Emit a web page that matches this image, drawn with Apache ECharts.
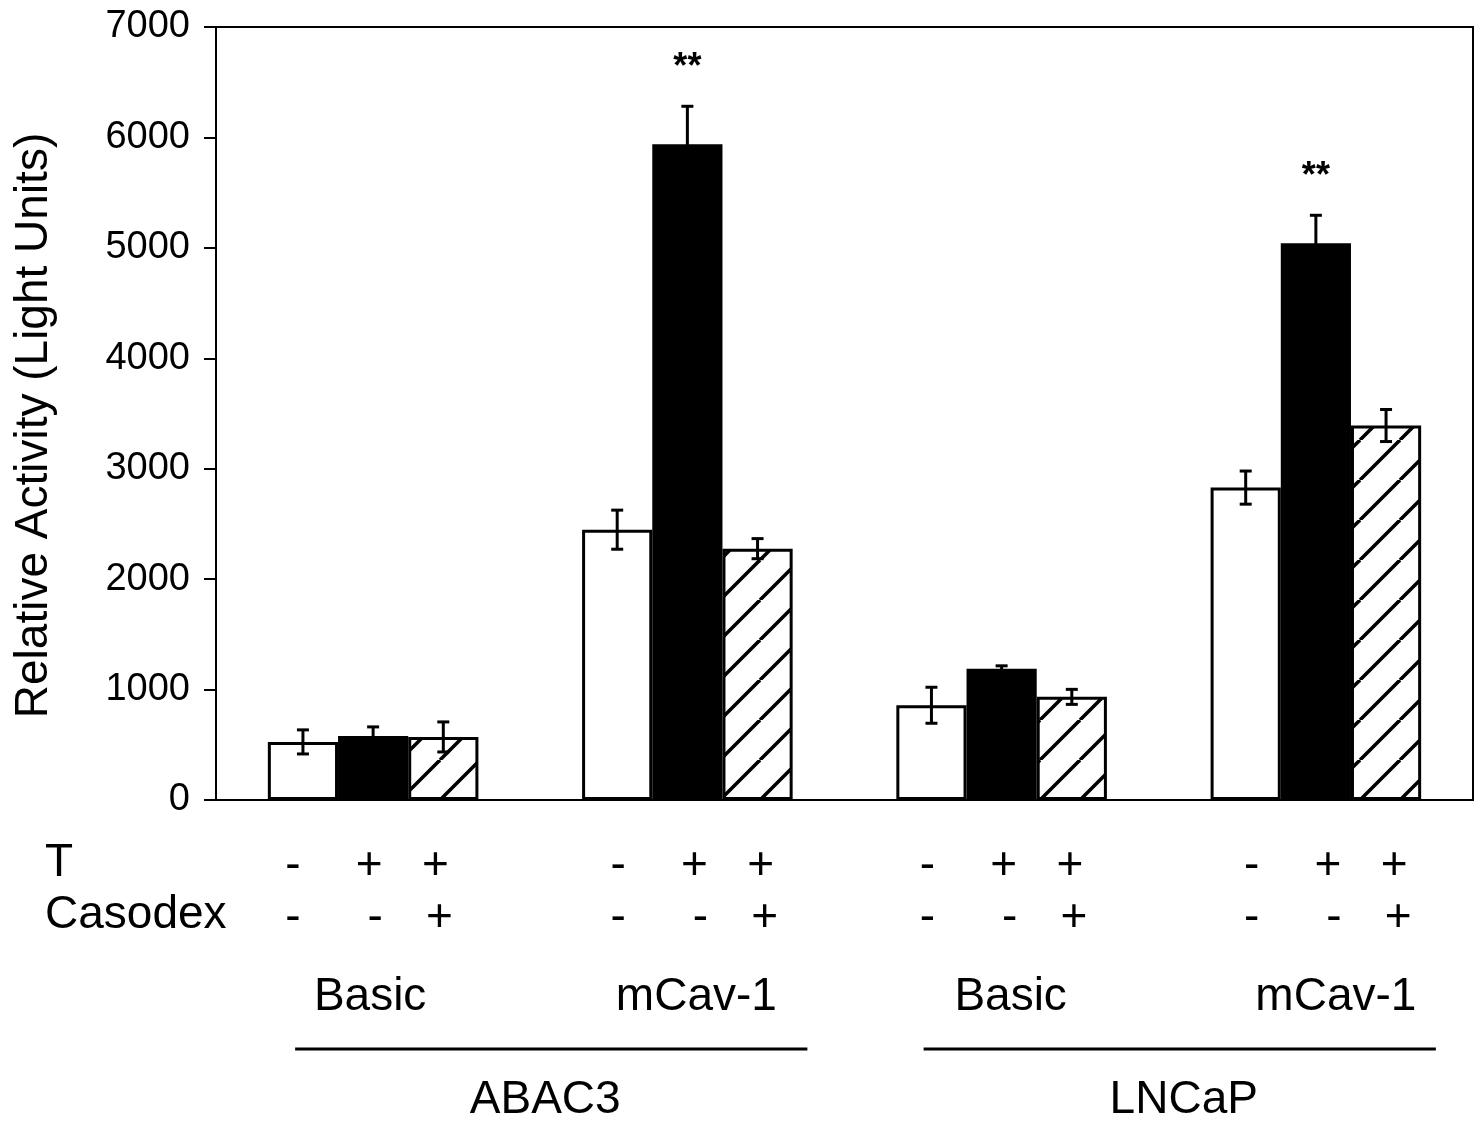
<!DOCTYPE html>
<html>
<head>
<meta charset="utf-8">
<script src="https://cdn.jsdelivr.net/npm/echarts@6/dist/echarts.min.js"></script>
<style>
html,body{margin:0;padding:0;background:#fff;}
#chart{width:1481px;height:1124px;}
</style>
</head>
<body>
<div id="chart"></div>
<script>
// ---- data ----
const categories = ['Basic', 'mCav-1', 'Basic', 'mCav-1'];
const cellLines = ['ABAC3', 'LNCaP'];
const controlValues = [526, 2448, 858, 2829];
const controlErr = [109, 177, 163, 150];
const tValues = [580, 5938, 1188, 5041];
const tErr = [82, 344, 27, 254];
const tCasodexValues = [571, 2276, 934, 3391];
const tCasodexErr = [136, 91, 68, 145];
const significance = ['', '**', '', '**'];
const tSigns = ['-', '+', '+'];
const casodexSigns = ['-', '-', '+'];
const yMin = 0, yMax = 7000, yInterval = 1000;

// ---- style / layout constants ----
const FONT = "'Liberation Sans', Arial, sans-serif";
const CAT_GAP = 0.33;
const labelShift = [-3, 9, 9, 20];   // horizontal nudge of group labels (px)
const signShift = [-4, 7, 2, 12];    // horizontal nudge of +/- rows per group (px)

// hatch pattern
const tile = document.createElement('canvas');
const S = 40;
tile.width = S; tile.height = S;
const tctx = tile.getContext('2d');
tctx.fillStyle = '#fff'; tctx.fillRect(0, 0, S, S);
tctx.strokeStyle = '#000'; tctx.lineWidth = 3.5;
for (let k = -1; k <= 1; k++) {
  tctx.beginPath(); tctx.moveTo(k * S, S); tctx.lineTo(k * S + S, 0); tctx.stroke();
}

function barOffset(band, idx) {
  const usable = band * (1 - CAT_GAP);
  const w = usable / 3;
  return -usable / 2 + w / 2 + idx * w;
}

function errSeries(idx, values, errs, sig) {
  return {
    type: 'custom',
    z: 10,
    data: values.map((v, i) => [i, v - errs[i], v + errs[i]]),
    encode: { x: 0, y: [1, 2] },
    renderItem: function (params, api) {
      const cat = api.value(0);
      const lo = api.coord([cat, api.value(1)]);
      const hi = api.coord([cat, api.value(2)]);
      const band = api.size([1, 0])[0];
      const x = lo[0] + barOffset(band, idx);
      const cap = 6;
      const st = { stroke: '#000', lineWidth: 3 };
      const children = [
        { type: 'line', shape: { x1: x, y1: lo[1], x2: x, y2: hi[1] }, style: st },
        { type: 'line', shape: { x1: x - cap, y1: lo[1], x2: x + cap, y2: lo[1] }, style: st },
        { type: 'line', shape: { x1: x - cap, y1: hi[1], x2: x + cap, y2: hi[1] }, style: st }
      ];
      if (sig && sig[params.dataIndex]) {
        children.push({
          type: 'text',
          style: { text: sig[params.dataIndex], x: x, y: hi[1] - 38, align: 'center', verticalAlign: 'middle',
                   fill: '#000', font: 'bold 36px ' + FONT }
        });
      }
      return { type: 'group', children: children };
    }
  };
}

const rich = {};
labelShift.forEach((d, i) => {
  rich['c' + i] = { fontSize: 46, fontFamily: FONT, color: '#000', lineHeight: 46,
    padding: d >= 0 ? [0, 0, 0, 2 * d] : [0, -2 * d, 0, 0] };
});

const chart = echarts.init(document.getElementById('chart'), null, { renderer: 'canvas' });
const barCommon = { type: 'bar', barGap: '0%', barCategoryGap: (CAT_GAP * 100) + '%' };
chart.setOption({
  animation: false,
  backgroundColor: '#fff',
  grid: { left: 216, right: 8, top: 27, bottom: 324, show: true, borderColor: '#000', borderWidth: 2, backgroundColor: 'transparent' },
  xAxis: {
    type: 'category',
    data: categories,
    axisLine: { lineStyle: { color: '#000', width: 2 } },
    axisTick: { show: false },
    axisLabel: { color: '#000', fontSize: 46, fontFamily: FONT, margin: 174, lineHeight: 46,
      interval: 0, hideOverlap: false,
      formatter: (v, i) => '{c' + i + '|' + v + '}', rich: rich }
  },
  yAxis: {
    type: 'value',
    min: yMin, max: yMax, interval: yInterval,
    name: 'Relative Activity (Light Units)',
    nameLocation: 'middle',
    nameRotate: 90,
    nameGap: 159,
    nameTextStyle: { color: '#000', fontSize: 46, fontFamily: FONT, padding: [0, 24, 0, 0] },
    axisLine: { show: true, lineStyle: { color: '#000', width: 2 } },
    axisTick: { show: true, length: 12, lineStyle: { color: '#000', width: 2 } },
    splitLine: { show: false },
    axisLabel: { color: '#000', fontSize: 38, fontFamily: FONT, margin: 26, formatter: (v) => String(v) }
  },
  series: [
    Object.assign({}, barCommon, { name: 'control', data: controlValues,
      itemStyle: { color: '#fff', borderColor: '#000', borderWidth: 3 } }),
    Object.assign({}, barCommon, { name: 'T', data: tValues,
      itemStyle: { color: '#000', borderColor: '#000', borderWidth: 3 } }),
    Object.assign({}, barCommon, { name: 'T+Casodex', data: tCasodexValues,
      itemStyle: { color: { image: tile, repeat: 'repeat' }, borderColor: '#000', borderWidth: 3 } }),
    errSeries(0, controlValues, controlErr),
    errSeries(1, tValues, tErr, significance),
    errSeries(2, tCasodexValues, tCasodexErr)
  ]
});

// annotation rows below the axis
function buildGraphic() {
  const els = [];
  const signFont = '46px ' + FONT;
  const rowT = 866, rowC = 918, lineY = 1049, cellY = 1100;
  els.push({ type: 'text', left: 45, top: rowT - 26, style: { text: 'T', font: signFont, fill: '#000' } });
  els.push({ type: 'text', left: 45, top: rowC - 26, style: { text: 'Casodex', font: signFont, fill: '#000' } });
  const centers = categories.map((c, i) => chart.convertToPixel({ xAxisIndex: 0 }, i));
  const band = centers[1] - centers[0];
  const tOff = [-6, 0, -4];
  const cOff = [-6, 6, 0];
  centers.forEach((cx, g) => {
    for (let j = 0; j < 3; j++) {
      const bx = cx + barOffset(band, j) + signShift[g];
      els.push({ type: 'text', x: bx + tOff[j], y: rowT,
        style: { text: tSigns[j], font: signFont, fill: '#000', align: 'center', verticalAlign: 'middle' } });
      els.push({ type: 'text', x: bx + cOff[j], y: rowC,
        style: { text: casodexSigns[j], font: signFont, fill: '#000', align: 'center', verticalAlign: 'middle' } });
    }
  });
  cellLines.forEach((name, g) => {
    const x1 = centers[2 * g] - 78;
    const x2 = centers[2 * g + 1] + 120;
    els.push({ type: 'line', shape: { x1: x1, y1: lineY, x2: x2, y2: lineY }, style: { stroke: '#000', lineWidth: 3 } });
    els.push({ type: 'text', x: (x1 + x2) / 2 + (g === 0 ? -6 : 4), y: cellY,
      style: { text: name, font: signFont, fill: '#000', align: 'center', verticalAlign: 'middle' } });
  });
  chart.setOption({ graphic: els });
}
buildGraphic();
</script>
</body>
</html>
